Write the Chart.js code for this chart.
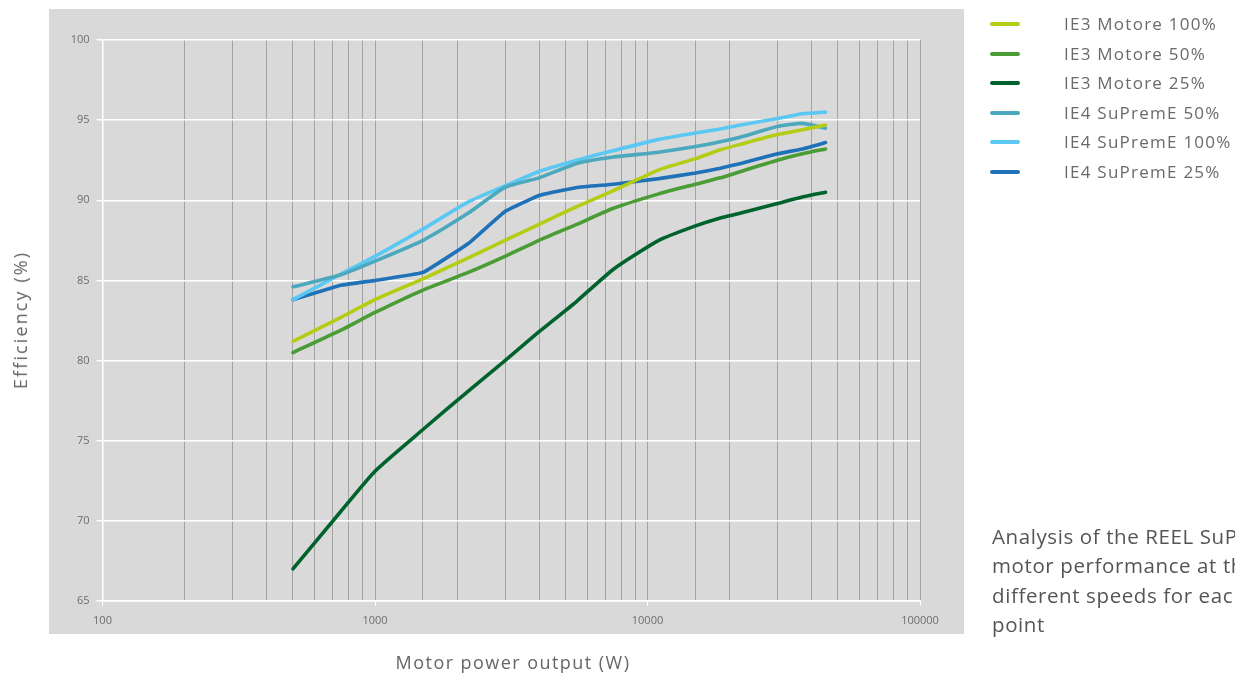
<!DOCTYPE html>
<html>
<head>
<meta charset="utf-8">
<script src="https://cdn.jsdelivr.net/npm/chart.js@4"></script>
<style>
  html, body { margin: 0; padding: 0; background: #fff; overflow: hidden; }
  body { width: 1235px; height: 673px; position: relative; font-family: "Open Sans", sans-serif; }
  #wrap { position: absolute; left: 0; top: 0; width: 1235px; height: 673px; }
  #legend { position: absolute; left: 990px; top: 9px; }
  .item { position: relative; height: 29.5px; }
  .item .swatch { position: absolute; left: 0; top: 13px; width: 30px; height: 4px; border-radius: 2px; }
  .item .label { position: absolute; left: 74px; top: 3px; font-size: 17px; letter-spacing: 1.25px; color: #6a6a6a; white-space: nowrap; }
  #note { position: absolute; left: 992px; top: 522px; font-size: 20.5px; line-height: 29.4px; letter-spacing: 0.6px; color: #555; white-space: nowrap; }
  .axis-title { position: absolute; font-size: 18px; color: #666; white-space: nowrap; line-height: 22px; }
  #xTitle { left: 513px; top: 651px; transform: translateX(-50%); letter-spacing: 1.45px; }
  #yTitle { left: 20px; top: 320px; transform: translate(-50%, -50%) rotate(-90deg); letter-spacing: 2.1px; }
</style>
</head>
<body>
<div id="wrap"><canvas id="effChart" width="1235" height="673"></canvas></div>
<div id="legend"></div>
<div id="xTitle" class="axis-title">Motor power output (W)</div>
<div id="yTitle" class="axis-title">Efficiency (%)</div>
<div id="note">Analysis of the REEL SuPremE<br>motor performance at the three<br>different speeds for each<br>point</div>
<script>
// power steps (W) and efficiency curves (%)
const powerW = [500, 750, 1000, 1500, 2200, 3000, 4000, 5500, 7500, 11000, 15000, 18500, 22000, 30000, 37000, 45000];
const ie3_100 = [81.2, 82.7, 83.8, 85.1, 86.4, 87.5, 88.5, 89.6, 90.6, 91.9, 92.6, 93.15, 93.5, 94.1, 94.4, 94.7];
const ie3_50 = [80.5, 81.9, 83.0, 84.4, 85.5, 86.5, 87.5, 88.5, 89.5, 90.4, 91.0, 91.4, 91.8, 92.5, 92.9, 93.2];
const ie3_25 = [67.0, 70.6, 73.1, 75.7, 78.1, 80.0, 81.8, 83.7, 85.7, 87.5, 88.4, 88.9, 89.2, 89.8, 90.2, 90.5];
const ie4_50 = [84.6, 85.35, 86.2, 87.5, 89.2, 90.8, 91.4, 92.3, 92.7, 93.0, 93.35, 93.65, 93.95, 94.6, 94.8, 94.5];
const ie4_100 = [83.8, 85.4, 86.5, 88.2, 89.9, 90.9, 91.8, 92.5, 93.1, 93.8, 94.2, 94.45, 94.7, 95.1, 95.4, 95.5];
const ie4_25 = [83.8, 84.7, 85.0, 85.5, 87.3, 89.3, 90.3, 90.8, 91.0, 91.35, 91.7, 92.0, 92.3, 92.9, 93.2, 93.6];

const seriesNames = ['IE3 Motore 100%', 'IE3 Motore 50%', 'IE3 Motore 25%', 'IE4 SuPremE 50%', 'IE4 SuPremE 100%', 'IE4 SuPremE 25%'];
const seriesValues = [ie3_100, ie3_50, ie3_25, ie4_50, ie4_100, ie4_25];
const seriesColors = ['#b4cc14', '#4a9c35', '#00632e', '#4ba8bd', '#5ac8f2', '#1f72b8'];
const yTicks = [65, 70, 75, 80, 85, 90, 95, 100];

const FONT = '"Open Sans", sans-serif';

const datasets = seriesNames.map((name, i) => ({
    label: name,
    data: powerW.map((p, j) => ({ x: p, y: seriesValues[i][j] })),
    borderColor: seriesColors[i],
    backgroundColor: seriesColors[i],
    borderWidth: 3.6,
    borderCapStyle: 'round',
    borderJoinStyle: 'round',
    pointRadius: 0,
    tension: i === 5 ? 0.08 : 0.18,
    fill: false
}));

// html legend
const legendEl = document.getElementById('legend');
seriesNames.forEach((name, i) => {
    const row = document.createElement('div');
    row.className = 'item';
    row.innerHTML = '<div class="swatch" style="background:' + seriesColors[i] + '"></div><div class="label">' + name + '</div>';
    legendEl.appendChild(row);
});

const isDecade = v => Math.abs(Math.log10(v) - Math.round(Math.log10(v))) < 1e-9;

const grayPanel = {
    id: 'grayPanel',
    beforeDraw(chart) {
        const c = chart.ctx;
        c.save();
        c.fillStyle = '#d9d9d9';
        c.fillRect(49, 9, 915, 625);
        c.restore();
    }
};

new Chart(document.getElementById('effChart').getContext('2d'), {
    type: 'line',
    data: { datasets: datasets },
    options: {
        responsive: false,
        animation: false,
        layout: { padding: { top: 40, right: 315, left: 0, bottom: 0 } },
        plugins: { legend: { display: false }, tooltip: { enabled: false } },
        scales: {
            x: {
                type: 'logarithmic',
                min: 100,
                max: 100000,
                afterFit: s => { s.height = 72; },
                ticks: {
                    autoSkip: false,
                    maxRotation: 0,
                    padding: 8,
                    color: '#6d6d6d',
                    font: { family: FONT, size: 11 },
                    callback: v => isDecade(v) ? String(v) : ''
                },
                grid: {
                    color: ctx => (ctx.tick && ctx.tick.value === 100) ? 'rgba(0,0,0,0)' : '#a3a3a3',
                    lineWidth: 1,
                    tickLength: 5,
                    tickColor: ctx => (ctx.tick && isDecade(ctx.tick.value)) ? '#ffffff' : 'rgba(0,0,0,0)'
                },
                border: { color: '#ffffff', width: 1.5 }
            },
            y: {
                min: 65,
                max: 100,
                afterFit: s => { s.width = 102.5; },
                afterBuildTicks: s => { s.ticks = yTicks.map(v => ({ value: v })); },
                ticks: {
                    padding: 7,
                    color: '#6d6d6d',
                    font: { family: FONT, size: 11 }
                },
                grid: { color: '#ffffff', lineWidth: 1.5, tickLength: 6, tickColor: '#ffffff' },
                border: { color: '#ffffff', width: 1.5 }
            }
        }
    },
    plugins: [grayPanel]
});
</script>
</body>
</html>
